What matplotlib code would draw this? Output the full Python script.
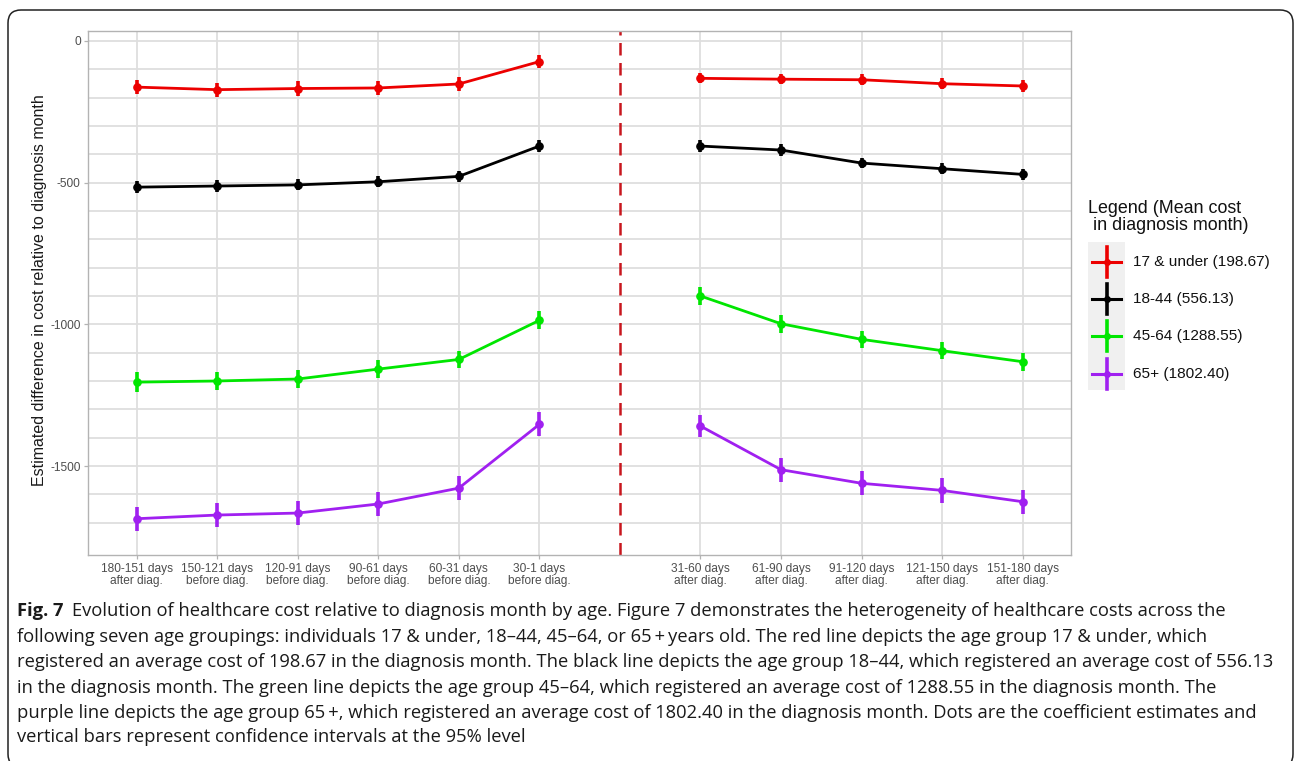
import matplotlib
matplotlib.use("Agg")
import matplotlib.pyplot as plt
import numpy as np
from matplotlib.patches import FancyBboxPatch, Rectangle
from matplotlib.lines import Line2D

# ---- data -------------------------------------------------------------
before_labels = ["180-151 days\nafter diag.", "150-121 days\nbefore diag.",
                 "120-91 days\nbefore diag.", "90-61 days\nbefore diag.",
                 "60-31 days\nbefore diag.", "30-1 days\nbefore diag."]
after_labels = ["31-60 days\nafter diag.", "61-90 days\nafter diag.",
                "91-120 days\nafter diag.", "121-150 days\nafter diag.",
                "151-180 days\nafter diag."]

group_names = ["17 & under (198.67)", "18-44 (556.13)",
               "45-64 (1288.55)", "65+ (1802.40)"]
group_colors = ["#ec0000", "#000000", "#00e600", "#a020f0"]

# coefficient estimates (before diagnosis, after diagnosis)
under17_before = [-163, -172, -168, -166, -152, -73]
under17_after = [-132, -135, -137, -151, -159]
age18_44_before = [-516, -512, -508, -497, -478, -371]
age18_44_after = [-371, -385, -431, -451, -471]
age45_64_before = [-1204, -1200, -1193, -1158, -1124, -986]
age45_64_after = [-900, -998, -1053, -1093, -1132]
age65_before = [-1686, -1673, -1666, -1634, -1578, -1353]
age65_after = [-1359, -1513, -1561, -1586, -1626]

# half-widths of the 95% confidence intervals
under17_ci_before = [26, 25, 25, 25, 24, 22]
under17_ci_after = [18, 18, 19, 20, 20]
age18_44_ci_before = [20, 20, 19, 19, 19, 20]
age18_44_ci_after = [20, 20, 19, 19, 19]
age45_64_ci_before = [34, 33, 32, 31, 31, 32]
age45_64_ci_after = [32, 31, 30, 30, 31]
age65_ci_before = [42, 42, 41, 41, 41, 42]
age65_ci_after = [39, 43, 42, 44, 43]

y_ticks = [0, -500, -1000, -1500]
y_grid = list(range(0, -1701, -100))

series_before = [under17_before, age18_44_before, age45_64_before, age65_before]
series_after = [under17_after, age18_44_after, age45_64_after, age65_after]
ci_before = [under17_ci_before, age18_44_ci_before, age45_64_ci_before, age65_ci_before]
ci_after = [under17_ci_after, age18_44_ci_after, age45_64_ci_after, age65_ci_after]

# ---- figure -----------------------------------------------------------
W, H = 1295, 761
fig = plt.figure(figsize=(W / 100, H / 100), dpi=100)
plt.rcParams["font.family"] = ["Liberation Sans", "DejaVu Sans"]

ax = fig.add_axes([88.3 / W, 1 - 555 / H, (1071 - 88.3) / W, (555 - 31) / H])

n_before = len(before_labels)
x_before = np.arange(n_before)
x_div = n_before
x_after = np.arange(n_before + 1, n_before + 1 + len(after_labels))

# grid
grid_col = "#dedede"
for gy in y_grid:
    ax.axhline(gy, color=grid_col, lw=1.3, zorder=0)
for gx in np.concatenate([x_before, x_after]):
    ax.axvline(gx, color=grid_col, lw=1.3, zorder=0)

ax.axvline(x_div, color="#c8161d", lw=1.8, ls=(0, (5, 3)), zorder=1)

for vals_b, vals_a, ci_b, ci_a, col in zip(series_before, series_after,
                                            ci_before, ci_after, group_colors):
    for xs, vals, ci in ((x_before, vals_b, ci_b), (x_after, vals_a, ci_a)):
        ax.plot(xs, vals, color=col, lw=2.0, zorder=3, solid_capstyle="butt")
        ax.errorbar(xs, vals, yerr=ci, fmt="o", color=col, ms=5.2,
                    elinewidth=2.6, capsize=0, zorder=4)

ax.set_xlim(-0.6, x_after[-1] + 0.6)
ax.set_ylim(-1814, 35)

ax.set_xticks(np.concatenate([x_before, x_after]))
ax.set_xticklabels(before_labels + after_labels, fontsize=8.6,
                   color="#4d4d4d", linespacing=1.0)
ax.set_yticks(y_ticks)
ax.set_yticklabels([str(v) for v in y_ticks], fontsize=8.6, color="#4d4d4d")
ax.tick_params(axis="both", length=3, width=0.9, color="#b3b3b3", pad=2.5)

for sp in ax.spines.values():
    sp.set_color("#b3b3b3")
    sp.set_linewidth(1.0)

ax.set_ylabel("Estimated difference in cost relative to diagnosis month",
              fontsize=11.5, color="#1a1a1a")
ax.yaxis.set_label_coords(-0.042, 0.505)

# ---- legend -----------------------------------------------------------
def px(x, y):
    return x / W, 1 - y / H

fig.text(*px(1088, 217), "Legend (Mean cost\n in diagnosis month)",
         fontsize=12.9, va="center", ha="left", linespacing=1.05, color="#111111")
fig.patches.append(Rectangle(px(1088, 390), 37 / W, 148 / H,
                             transform=fig.transFigure, facecolor="#f0f0f0",
                             edgecolor="none", zorder=0))
for i, (name, col) in enumerate(zip(group_names, group_colors)):
    yc = 262 + i * 37.2
    fig.lines.append(Line2D([1092 / W, 1121 / W], [1 - yc / H] * 2,
                            transform=fig.transFigure, color=col, lw=2.2))
    fig.lines.append(Line2D([1106.5 / W] * 2, [1 - (yc - 15) / H, 1 - (yc + 15) / H],
                            transform=fig.transFigure, color=col, lw=2.6))
    fig.lines.append(Line2D([1106.5 / W], [1 - yc / H], marker="o", ms=4,
                            transform=fig.transFigure, color=col))
    fig.text(*px(1133, yc), name, fontsize=11.1, va="center", ha="left",
             color="#111111")

# ---- caption ----------------------------------------------------------
caption_lines = [
    "Evolution of healthcare cost relative to diagnosis month by age. Figure 7 demonstrates the heterogeneity of healthcare costs across the",
    "following seven age groupings: individuals 17 & under, 18\u201344, 45\u201364, or 65\u2009+\u2009years old. The red line depicts the age group 17 & under, which",
    "registered an average cost of 198.67 in the diagnosis month. The black line depicts the age group 18\u201344, which registered an average cost of 556.13",
    "in the diagnosis month. The green line depicts the age group 45\u201364, which registered an average cost of 1288.55 in the diagnosis month. The",
    "purple line depicts the age group 65\u2009+, which registered an average cost of 1802.40 in the diagnosis month. Dots are the coefficient estimates and",
    "vertical bars represent confidence intervals at the 95% level",
]
cap_font = ["Open Sans", "DejaVu Sans"]
renderer = fig.canvas.get_renderer()
probe = fig.text(0, 0, caption_lines[2], fontsize=11, family=cap_font)
w_probe = probe.get_window_extent(renderer).width
probe.remove()
cap_size = 11 * (1263 / w_probe)

line_y = [611, 637, 662, 688, 713, 737]
head = fig.text(*px(17, line_y[0]), "Fig. 7", fontsize=cap_size, family=cap_font,
                weight="bold", va="center", ha="left", color="#1a1a1a")
head_w = head.get_window_extent(renderer).width
fig.text((17 + head_w + 9) / W, 1 - line_y[0] / H, caption_lines[0],
         fontsize=cap_size, family=cap_font, va="center", ha="left", color="#1a1a1a")
for ln, yy in zip(caption_lines[1:], line_y[1:]):
    fig.text(*px(17, yy), ln, fontsize=cap_size, family=cap_font,
             va="center", ha="left", color="#1a1a1a")

# rounded frame around the whole figure
frame = FancyBboxPatch((0.08, -0.06), 12.85, 7.57,
                       boxstyle="round,pad=0,rounding_size=0.13",
                       transform=fig.dpi_scale_trans, facecolor="none",
                       edgecolor="#222222", lw=1.1)
fig.patches.append(frame)

fig.savefig("out.png", dpi=100)
